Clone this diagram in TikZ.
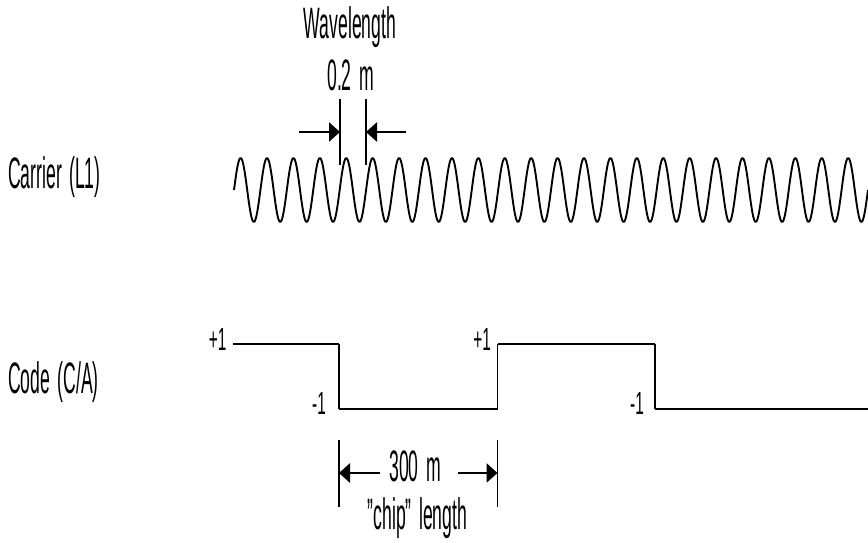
\documentclass[tikz,border=0pt]{standalone}
\usepackage{fontspec}
\setmainfont{Liberation Sans}[FakeStretch=0.40,WordSpace=1.5]
\newfontfamily\lvlfont{Liberation Sans}[FakeStretch=0.48]
\usetikzlibrary{arrows.meta}
\begin{document}
\begin{tikzpicture}[x=1pt,y=-1pt,
  lbl/.style={inner sep=0pt, font=\fontsize{44}{46}\selectfont},
  lvl/.style={inner sep=0pt, font=\lvlfont\fontsize{32}{34}\selectfont},
  wave/.style={line width=1.9pt, line join=round},
  hlevel/.style={line width=2.6pt},
  vedge/.style={line width=1.3pt},
  tick/.style={line width=1.1pt},
  dimarrow/.style={line width=2.8pt, -{Triangle[length=11pt,width=19pt]}}]
\useasboundingbox (0,0) rectangle (868,543);

% labels
\node[lbl, anchor=base] (wl) at (350,38.5) {Wavelength};
\node[lbl, anchor=base] (wv) at (350.5,90.5) {0.2 m};
\node[lbl, anchor=base west] (carrier) at (8,188) {Carrier (L1)};
\node[lbl, anchor=base west] (code) at (8,393) {Code (C/A)};
\node[lvl, anchor=base east] (p1a) at (226.5,350.5) {+1};
\node[lvl, anchor=base east] (p1b) at (491,350.5) {+1};
\node[lvl, anchor=base east] (m1a) at (326,414) {-1};
\node[lvl, anchor=base east] (m1b) at (644,414) {-1};
\node[lbl, anchor=base] (chip) at (415,481) {300 m};
\node[lbl, anchor=base] (chipl) at (417.5,529) {"chip" length};

% carrier wave
\draw[wave] (234,190) \foreach \i in {1,...,24} { sin ++(6.604,-32) cos ++(6.604,32) sin ++(6.604,32) cos ++(6.604,-32) };

% wavelength markers
\coordinate (t1top) at (340,99);
\coordinate (t1bot) at (340,165);
\coordinate (t2top) at (366,99);
\coordinate (t2bot) at (366,165);
\draw[tick] (t1top) -- (t1bot);
\draw[tick] (t2top) -- (t2bot);
\coordinate (a1s) at (299,132);
\coordinate (a1e) at (340,132);
\coordinate (a2s) at (406,132);
\coordinate (a2e) at (366,132);
\draw[dimarrow] (a1s) -- (a1e);
\draw[dimarrow] (a2s) -- (a2e);

% code signal
\coordinate (c0) at (233,344);
\coordinate (c1) at (339,344);
\coordinate (c2) at (339,409);
\coordinate (c3) at (497.5,409);
\coordinate (c4) at (497.5,344);
\coordinate (c5) at (655,344);
\coordinate (c6) at (655,409);
\coordinate (c7) at (868,409);
\draw[hlevel] (c0) -- (c1);
\draw[hlevel] (c2) -- (c3);
\draw[hlevel] (c4) -- (c5);
\draw[hlevel] (c6) -- (c7);
\draw[vedge] (c1) -- (c2);
\draw[vedge] (c3) -- (c4);
\draw[vedge] (c5) -- (c6);

% chip markers
\coordinate (k1top) at (339,440);
\coordinate (k1bot) at (339,507);
\coordinate (k2top) at (497.5,440);
\coordinate (k2bot) at (497.5,507);
\draw[tick] (k1top) -- (k1bot);
\draw[tick] (k2top) -- (k2bot);
\coordinate (b1s) at (380,473);
\coordinate (b1e) at (339,473);
\coordinate (b2s) at (458,473);
\coordinate (b2e) at (497.5,473);
\draw[dimarrow] (b1s) -- (b1e);
\draw[dimarrow] (b2s) -- (b2e);
\end{tikzpicture}
\end{document}
